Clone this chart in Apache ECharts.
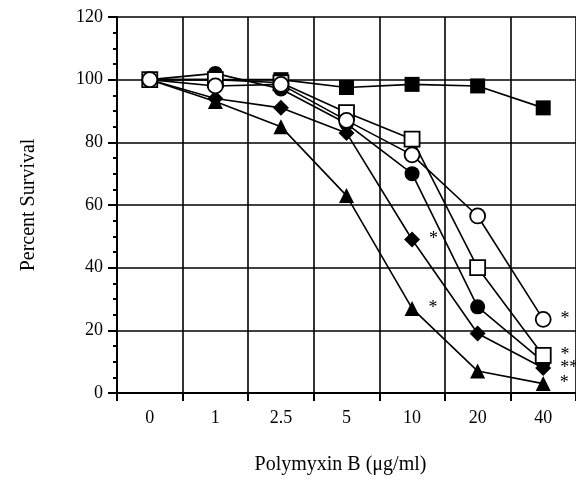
<!DOCTYPE html>
<html>
<head>
<meta charset="utf-8">
<script src="https://cdn.jsdelivr.net/npm/echarts@6/dist/echarts.min.js"></script>
<style>
  html, body { margin: 0; padding: 0; background: #fff; }
  #chart { width: 576px; height: 480px; }
</style>
</head>
<body>
<div id="chart"></div>
<script>
var doses = ['0', '1', '2.5', '5', '10', '20', '40'];
var yTicks = [0, 20, 40, 60, 80, 100, 120];

var filledSquare = [100, 100, 100, 97.5, 98.5, 98, 91];
var openSquare   = [100, 100, 99, 89.5, 81, 40, 12];
var openCircle   = [100, 98, 98.5, 87, 76, 56.5, 23.5];
var filledCircle = [100, 102, 97, 86, 70, 27.5, 10];
var diamond      = [100, 94, 91, 83, 49, 19, 8];
var triangle     = [100, 93, 85, 63, 27, 7, 3];

// significance marks next to points
var starsOpenSquare = ['', '', '', '', '', '', '*'];
var starsOpenCircle = ['', '', '', '', '', '', '*'];
var starsDiamond    = ['', '', '', '', '*', '', '**'];
var starsTriangle   = ['', '', '', '', '*', '', '*'];

var font = 'Liberation Serif, Times New Roman, serif';

function withStars(values, stars) {
  return values.map(function (v, i) {
    var s = stars && stars[i];
    if (!s) return v;
    return {
      value: v,
      label: {
        show: true, position: 'right', distance: 9, formatter: s,
        color: '#000', fontFamily: font, fontSize: 18
      }
    };
  });
}

function line(data, symbol, size, open, stars) {
  return {
    type: 'line',
    data: withStars(data, stars),
    symbol: symbol,
    symbolSize: size,
    showAllSymbol: true,
    lineStyle: { color: '#000', width: 1.6 },
    itemStyle: open
      ? { color: '#fff', borderColor: '#000', borderWidth: 1.8 }
      : { color: '#000', borderColor: '#000', borderWidth: 0 },
    emphasis: { disabled: true },
    animation: false,
    z: open ? 5 : 3
  };
}

var chart = echarts.init(document.getElementById('chart'));
chart.setOption({
  backgroundColor: '#fff',
  grid: { left: 117, top: 17, width: 462, bottom: 87 },
  xAxis: {
    type: 'category',
    data: doses,
    boundaryGap: true,
    name: 'Polymyxin B (μg/ml)',
    nameLocation: 'middle',
    nameGap: 62,
    nameTextStyle: { color: '#000', fontFamily: font, fontSize: 20, padding: [0, 12, 0, 0] },
    axisLine: { lineStyle: { color: '#000', width: 2 } },
    axisTick: { show: true, length: 8, lineStyle: { color: '#000', width: 2 } },
    axisLabel: { color: '#000', fontFamily: font, fontSize: 18, margin: 16 },
    splitLine: { show: true, lineStyle: { color: '#000', width: 1.6 } }
  },
  yAxis: {
    type: 'value',
    min: yTicks[0],
    max: yTicks[yTicks.length - 1],
    interval: 20,
    name: 'Percent Survival',
    nameLocation: 'middle',
    nameGap: 78,
    nameRotate: 90,
    nameTextStyle: { color: '#000', fontFamily: font, fontSize: 20 },
    axisLine: { show: true, lineStyle: { color: '#000', width: 2 } },
    axisTick: { show: true, length: 9, lineStyle: { color: '#000', width: 2 } },
    minorTick: { show: true, splitNumber: 4, length: 4, lineStyle: { color: '#000', width: 2 } },
    axisLabel: { color: '#000', fontFamily: font, fontSize: 18, margin: 14 },
    splitLine: { show: true, lineStyle: { color: '#000', width: 1.6 } }
  },
  series: [
    line(filledSquare, 'rect', 15, false),
    line(filledCircle, 'circle', 15, false),
    line(diamond, 'diamond', 16, false, starsDiamond),
    line(triangle, 'triangle', 15, false, starsTriangle),
    line(openSquare, 'rect', 15, true, starsOpenSquare),
    line(openCircle, 'circle', 15, true, starsOpenCircle)
  ]
});
</script>
</body>
</html>
